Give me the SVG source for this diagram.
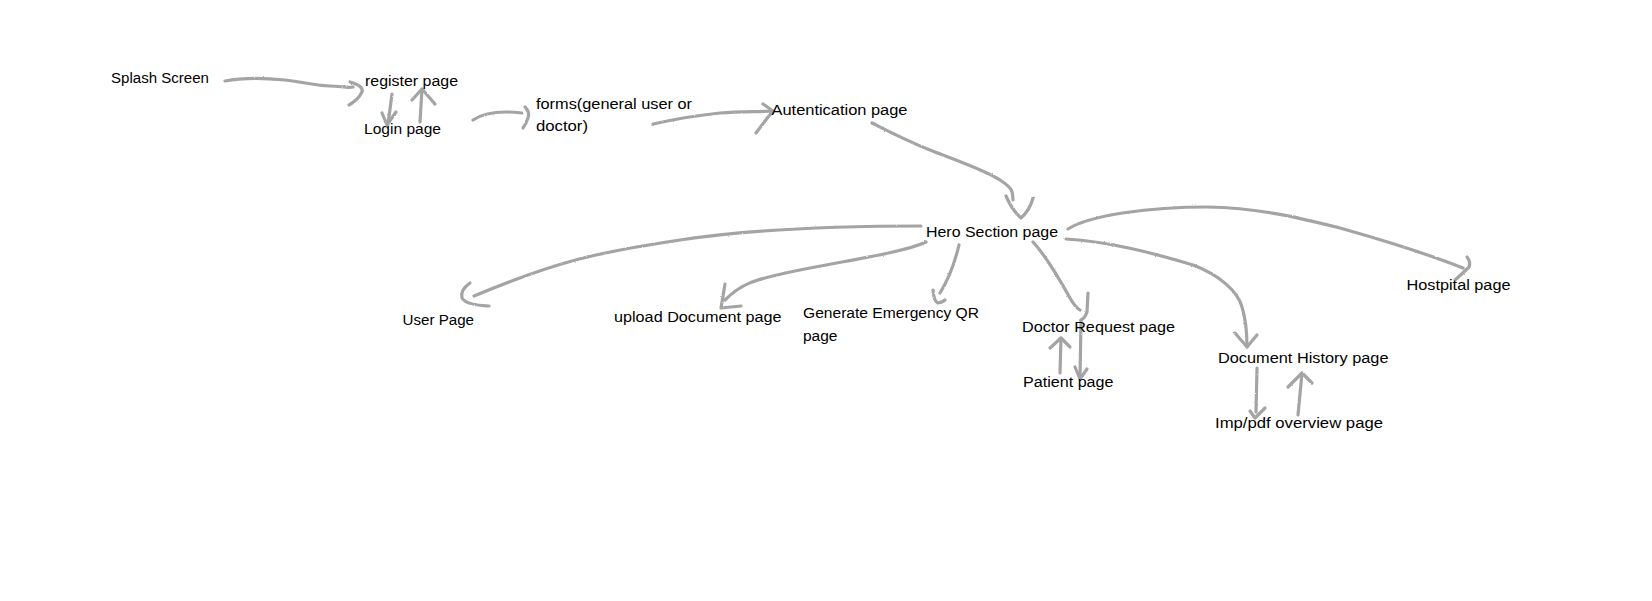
<svg xmlns="http://www.w3.org/2000/svg" width="1652" height="601" viewBox="0 0 1652 601">
<style>
.t{font-family:"Liberation Sans",Arial,sans-serif;font-size:15.5px;fill:#000}
.c path{fill:none;stroke:#a4a4a4;stroke-width:3.2;stroke-linecap:round;stroke-linejoin:round}
</style>
<defs>
<filter id="rough" x="-5%" y="-5%" width="110%" height="110%">
<feTurbulence type="fractalNoise" baseFrequency="0.9" numOctaves="2" seed="3" result="n"/>
<feDisplacementMap in="SourceGraphic" in2="n" scale="1.8" xChannelSelector="R" yChannelSelector="G"/>
</filter>
</defs>
<rect width="1652" height="601" fill="#fff"/>
<g id="connectors" class="c" filter="url(#rough)">
<path d="M225,81 C245,77 265,78 285,80 C305,82 310,85 330,86 S348,88 353,87"/>
<path d="M350,82 Q364,86 362,92 Q358,100 349,105"/>
<path d="M392,94 L388,124"/>
<path d="M382,113 L387,125 L396,112"/>
<path d="M420,122 L422,89"/>
<path d="M412,100 L422,89 L435,104"/>
<path d="M473,120 C485,112 505,111 522,113"/>
<path d="M525,107 Q530,112 528,118 Q526,124 523,128"/>
<path d="M653,124 C680,118 700,115 720,113 S760,112 771,111"/>
<path d="M763,104 L773,111 Q764,122 756,133"/>
<path d="M872,123 C890,132 905,140 930,150 S985,170 1000,180 S1012,192 1013,200"/>
<path d="M1006,196 Q1012,210 1021,218 Q1030,210 1033,198"/>
<path d="M921,226 C860,226 760,228 680,240 S560,260 474,296"/>
<path d="M470,283 Q460,290 462,298 Q466,305 489,306"/>
<path d="M926,242 C905,252 850,260 800,270 S740,285 725,300"/>
<path d="M725,284 L721,308 L741,306"/>
<path d="M959,245 C955,262 948,280 940,293"/>
<path d="M933,290 Q934,302 938,303 Q943,302 945,300"/>
<path d="M1033,242 C1045,255 1060,280 1070,298 Q1075,307 1080,310"/>
<path d="M1088,293 L1087,312 Q1085,318 1081,320"/>
<path d="M1081,320 L1080,378"/>
<path d="M1075,367 L1080,379 L1087,369"/>
<path d="M1060,373 L1061,338"/>
<path d="M1050,348 L1061,338 L1070,347"/>
<path d="M1066,239 C1110,242 1150,252 1193,265 C1220,275 1238,292 1242,307 C1246,320 1247,335 1247,347"/>
<path d="M1235,333 L1247,347 L1257,335"/>
<path d="M1257,368 L1256,412"/>
<path d="M1250,411 L1255,418 L1265,408"/>
<path d="M1298,415 L1302,373"/>
<path d="M1288,387 L1302,373 L1312,383"/>
<path d="M1068,229 C1090,215 1150,207 1207,207 C1260,208 1300,218 1340,228 C1390,242 1430,255 1463,268"/>
<path d="M1467,257 Q1471,262 1469,267 Q1462,274 1455,280"/>
</g>
<g id="splash"><text class="t" x="111" y="83" textLength="98" lengthAdjust="spacingAndGlyphs">Splash Screen</text></g>
<g id="register"><text class="t" x="365" y="86" textLength="93" lengthAdjust="spacingAndGlyphs">register page</text></g>
<g id="login"><text class="t" x="364" y="134" textLength="77" lengthAdjust="spacingAndGlyphs">Login page</text></g>
<g id="forms"><text class="t" x="536" y="108.5" textLength="156" lengthAdjust="spacingAndGlyphs">forms(general user or</text><text class="t" x="536" y="130.5" textLength="52" lengthAdjust="spacingAndGlyphs">doctor)</text></g>
<g id="auth"><text class="t" x="771.5" y="115" textLength="136" lengthAdjust="spacingAndGlyphs">Autentication page</text></g>
<g id="hero"><text class="t" x="926" y="237" textLength="132" lengthAdjust="spacingAndGlyphs">Hero Section page</text></g>
<g id="user"><text class="t" x="402.5" y="324.5" textLength="71.5" lengthAdjust="spacingAndGlyphs">User Page</text></g>
<g id="upload"><text class="t" x="614" y="322" textLength="167.5" lengthAdjust="spacingAndGlyphs">upload Document page</text></g>
<g id="qr"><text class="t" x="803" y="318" textLength="176" lengthAdjust="spacingAndGlyphs">Generate Emergency QR</text><text class="t" x="803" y="340.5">page</text></g>
<g id="doctor"><text class="t" x="1022" y="332" textLength="153" lengthAdjust="spacingAndGlyphs">Doctor Request page</text></g>
<g id="patient"><text class="t" x="1023" y="386.5" textLength="90.5" lengthAdjust="spacingAndGlyphs">Patient page</text></g>
<g id="history"><text class="t" x="1218" y="363" textLength="170.5" lengthAdjust="spacingAndGlyphs">Document History page</text></g>
<g id="imp"><text class="t" x="1215" y="428" textLength="168" lengthAdjust="spacingAndGlyphs">Imp/pdf overview page</text></g>
<g id="hospital"><text class="t" x="1406.5" y="290" textLength="104" lengthAdjust="spacingAndGlyphs">Hostpital page</text></g>
</svg>
